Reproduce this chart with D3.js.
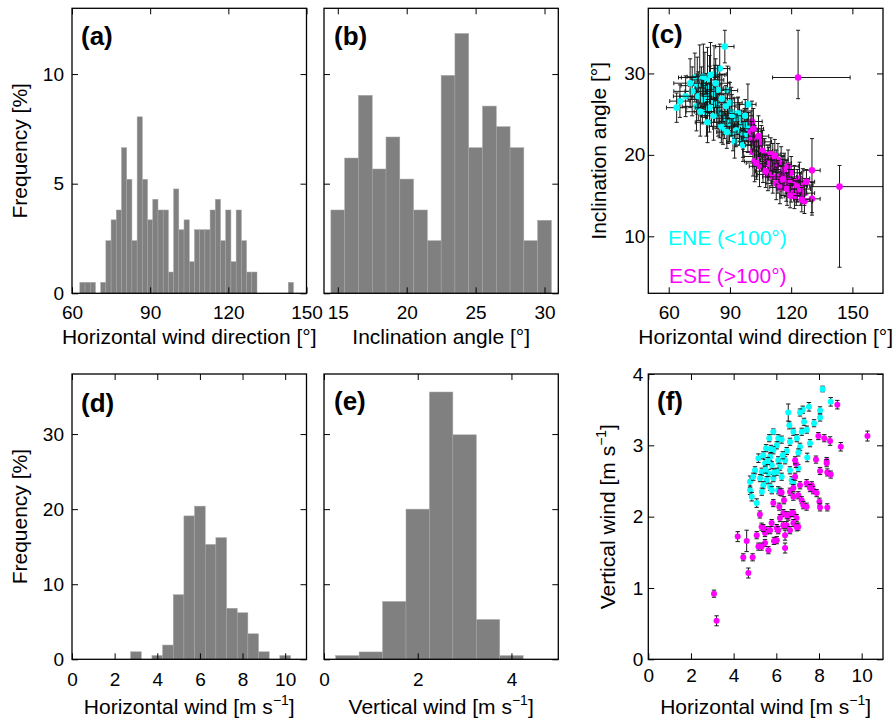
<!DOCTYPE html>
<html><head><meta charset="utf-8">
<script src="https://cdn.jsdelivr.net/npm/d3@7"></script>
<style>
body{margin:0;background:#fff}
text{font-family:"Liberation Sans",Arial,Helvetica,sans-serif}
</style>
</head><body>
<svg id="chart" width="895" height="723"></svg>
<script>
// ---------------- DATA ----------------
// (a) horizontal wind direction histogram
const aBinWidth = 2;
const aCenters = [64,66,68,70,72,74,76,78,80,82,84,86,88,90,92,94,96,98,100,102,104,106,108,110,112,114,116,118,120,122,124,126,128,130,132,134,136,138,140,142,144];
const aFreq    = [0.5,0.5,0.5,0,0.5,2.4,3.35,3.8,6.64,5.2,2.4,8.05,5.2,3.35,4.29,3.8,3.8,0.97,4.76,2.9,3.35,1.44,2.9,2.9,2.9,3.8,4.29,2.4,3.8,1.44,3.8,2.4,0.97,0.97,0,0,0,0,0,0,0.5];
// (b) inclination angle histogram
const bBinWidth = 1;
const bCenters = [15,16,17,18,19,20,21,22,23,24,25,26,27,28,29,30];
const bFreq    = [3.8,6.17,9.03,5.67,7.13,5.21,3.8,2.4,9.94,11.85,6.64,8.54,7.6,6.64,2.4,3.33];
// (d) horizontal wind histogram
const dBinWidth = 0.5;
const dCenters = [3,3.5,4,4.5,5,5.5,6,6.5,7,7.5,8,8.5,9,9.5,10];
const dFreq    = [1.0,0,0.5,1.9,8.6,19.1,20.4,15.3,16.2,6.8,6.2,3.4,1.0,0,0.5];
// (e) vertical wind histogram
const eBinWidth = 0.5;
const eCenters = [0.5,1,1.5,2,2.5,3,3.5,4];
const eFreq    = [0.49,0.98,7.7,20.0,35.6,29.9,5.3,0.49];

// (c) direction vs inclination, ENE group (symmetric errors)
const cCyanDir = [87.5,85.0,82.2,72.8,75.2,68.3,65.5,63.9,88.8,98.8,77.7,80.1,73.6,78.5,85.0,87.4,89.8,92.3,94.7,97.2,86.6,91.5,96.4,92.3,84.2,90.7,93.9,89.1,95.6,98.0,85.8,96.4,98.8,96.4,74,76,78,80,81,79,76.5,74.5,71.5,70.5,82.5,83.5,77,80.5,84,82,80,86,88,90,91,94,93,88.5,83,75.5,79,97.5,99.2];
const cCyanInc = [33.3,30.6,29.9,29.5,29.5,27.2,26.6,25.8,27.9,26.2,28.6,27.4,25.95,25.3,25.1,24.5,24.1,24.5,23.7,23.7,23.3,22.5,21.7,21.6,25.3,25.3,24.5,23.9,23.5,23.7,23.5,22.7,22.3,21.2,28.5,27.8,27.0,28.2,26.5,29.2,26.8,27.2,27.8,28.8,27.5,26.2,29.6,29.8,28.0,24.8,25.8,26.9,26.0,26.4,24.9,25.1,23.0,22.8,28.8,25.3,24.0,24.8,23.2];
const cCyanDirErr = [4.5,5,6,8,9,6,5,5,5,4,8,7,7,6,6,5,5,6,5,5,5,5,4,4,6,6,5,5,5,4,6,4,4,4,8,8,7,7,6,8,7,9,9,8,7,6,8,7,6,6,7,6,5,6,5,5,5,5,7,7,6,4,4];
const cCyanIncErr = [2,3,3.5,3,4,2.5,2,1.8,3,2.5,4,3.5,3,3,3,2.5,2.5,2.5,2.5,2,2,2,2,2,3,3,2.5,2.5,2,2,2,2,2,2,3.5,3,3,4,3,4,3,3,3,3,3.5,3,4,4,3,3,3,3,2.5,2.5,2.5,2,2,2,3,3,2.5,2,2];
// (c) ESE group (lower / upper errors)
const cMagDir = [123.4,143.7,130.2,130.2,100.8,100.3,100.5,102.1,103.7,105.4,101.3,102.9,102.1,107,108.6,106.2,104.5,111,113.5,115.1,112.7,110.3,108.6,111,113.5,115.9,117.6,120,115.1,112.7,117.6,121.6,124.1,125.7,120,122.5,126.5,126.5,121.6,118.5,116.5,119,123,109,114.5,118,124.5,127.5,106,104,101.5,110,112,103,107.5,119.5,125.2,116];
const cMagInc = [29.5,16.1,18.1,14.6,24.1,22.9,22.1,21.6,21.2,21.6,20.4,19.8,19.2,20.0,19.2,18.6,18.6,19.4,19.4,19.0,18.6,18.2,17.6,17.3,17.3,17.8,17.3,17.8,16.7,16.5,16.3,16.7,17.1,16.3,15.7,15.3,15.3,14.3,14.9,18.6,18.2,16.8,16.2,18.9,16.0,15.8,15.8,16.7,20.5,22.3,23.2,20.1,19.9,19.0,18.0,15.0,14.5,17.0];
const cMagDirLo = [12.5,14.6,4,4,5,5,5,5,6,5,5,6,5,5,6,5,5,6,5,5,6,5,5,5,5,5,5,5,5,5,5,5,5,5,5,5,5,4,5,5,5,5,5,5,5,5,5,4,5,5,5,5,5,5,5,5,4,5];
const cMagDirHi = [25.5,25,4,4,5,5,5,5,6,5,5,6,5,5,6,5,5,6,5,5,6,5,5,5,5,5,5,5,5,5,5,5,5,5,5,5,5,4,5,5,5,5,5,5,5,5,5,4,5,5,5,5,5,5,5,5,4,5];
const cMagIncLo = [2.6,9.9,5.2,2,2.5,2.5,2,2,2,2,3,2.5,2.5,2,2,2,2.5,2,2,2,2,2,2,2,2,2,2,2,2,2,2,2,2,2,1.5,1.5,1.5,1.5,1.5,2,2,2,2,2,2,2,2,1.5,2.5,2.5,2.5,2,2,2,2,1.5,1.5,2];
const cMagIncHi = [5.8,2.6,3.9,2,2.5,2.5,2,2,2,2,3,2.5,2.5,2,2,2,2.5,2,2,2,2,2,2,2,2,2,2,2,2,2,2,2,2,2,1.5,1.5,1.5,1.5,1.5,2,2,2,2,2,2,2,2,1.5,2.5,2.5,2.5,2,2,2,2,1.5,1.5,2];

// (f) horizontal vs vertical wind
const fCyanH = [8.17,8.55,8.05,8.05,7.53,7.24,7.11,6.56,7.77,7.43,6.61,6.80,7.19,6.96,5.86,6.09,5.67,6.64,7.58,7.11,6.02,5.52,5.86,6.49,7.03,5.16,5.39,5.71,6.09,6.41,7.45,5.47,5.79,6.17,7.03,5.00,5.32,5.63,6.02,6.64,5.24,5.55,5.86,6.25,4.77,5.39,5.71,6.72,4.77,4.85,5.08,5.32,5.79,6.09,6.80,5.6,5.5,5.9,6.3,5.75,6.25,7.3,4.92];
const fCyanV = [3.79,3.61,3.49,3.39,3.54,3.50,3.46,3.46,3.31,3.22,3.28,3.19,3.19,3.10,3.19,3.10,3.10,3.05,3.03,2.98,3.00,2.96,2.93,2.92,2.90,2.82,2.86,2.84,2.79,2.79,2.83,2.75,2.72,2.70,2.68,2.65,2.63,2.61,2.63,2.65,2.54,2.51,2.54,2.56,2.49,2.44,2.42,2.51,2.37,2.28,2.19,2.35,2.37,2.37,2.47,2.78,2.66,2.62,2.86,2.95,3.08,3.33,2.56];
const fCyanErr = [0.04,0.06,0.05,0.05,0.06,0.05,0.05,0.12,0.05,0.05,0.05,0.05,0.05,0.05,0.04,0.05,0.05,0.05,0.05,0.05,0.05,0.05,0.05,0.05,0.05,0.06,0.05,0.05,0.05,0.05,0.06,0.05,0.05,0.05,0.05,0.05,0.05,0.05,0.05,0.05,0.05,0.05,0.05,0.05,0.08,0.05,0.05,0.05,0.06,0.06,0.06,0.05,0.05,0.05,0.05,0.05,0.05,0.05,0.05,0.05,0.05,0.05,0.05];
const fMagH = [10.27,8.86,7.97,8.25,8.52,9.02,7.86,8.36,8.36,8.05,8.39,8.55,6.92,6.88,6.88,7.11,7.42,7.66,7.73,7.89,7.58,8.02,8.05,8.39,6.64,6.80,7.03,7.19,7.27,7.42,6.17,6.36,5.86,6.14,5.23,6.33,6.56,6.80,6.95,6.17,6.33,6.48,6.80,7.03,6.64,5.78,6.02,5.31,5.55,5.08,5.47,6.02,5.47,5.31,5.63,6.41,6.41,4.19,4.61,4.45,4.89,4.69,3.08,3.20,6.25,5.39,5.16,6.09,5.71,5.89,6.49,6.72,6.96,6.80];
const fMagV = [3.13,3.57,3.13,3.10,3.06,2.98,2.80,2.78,2.75,2.64,2.62,2.59,2.74,2.79,2.56,2.44,2.47,2.44,2.37,2.33,2.40,2.21,2.13,2.13,2.35,2.28,2.30,2.23,2.16,2.14,2.35,2.23,2.19,2.14,2.03,2.05,2.00,2.05,1.98,1.98,1.88,1.88,1.91,1.86,1.81,1.91,1.84,1.86,1.81,1.74,1.77,1.67,1.63,1.58,1.53,1.56,1.74,1.72,1.66,1.43,1.43,1.21,0.92,0.54,2.34,1.84,1.58,1.81,1.81,1.66,2.02,2.05,1.85,2.40];
const fMagErr = [0.07,0.06,0.05,0.05,0.06,0.06,0.05,0.05,0.05,0.05,0.05,0.05,0.05,0.05,0.05,0.05,0.05,0.05,0.05,0.05,0.05,0.05,0.05,0.05,0.05,0.05,0.05,0.05,0.05,0.05,0.05,0.05,0.05,0.05,0.05,0.05,0.05,0.05,0.05,0.05,0.05,0.05,0.05,0.05,0.05,0.05,0.05,0.05,0.05,0.05,0.05,0.05,0.05,0.05,0.05,0.07,0.07,0.07,0.15,0.05,0.05,0.07,0.05,0.07,0.05,0.05,0.05,0.05,0.05,0.05,0.05,0.05,0.05,0.05];

// tick values
const aXTicks = [60,90,120,150], aYTicks = [0,5,10];
const bXTicks = [15,20,25,30];
const cXTicks = [60,90,120,150], cYTicks = [10,20,30];
const dXTicks = [0,2,4,6,8,10], dYTicks = [0,10,20,30];
const eXTicks = [0,2,4];
const fXTicks = [0,2,4,6,8,10], fYTicks = [0,1,2,3,4];

// ---------------- DRAWING ----------------
const FONT = '"Liberation Sans", Arial, Helvetica, sans-serif';
const CYAN = "#00ffff", MAGENTA = "#ff00ff", BAR = "#808080";
const svg = d3.select("#chart");

let clipId = 0;
function panel(o) {
  const x = d3.scaleLinear().domain(o.xDom).range([o.left, o.right]);
  const y = d3.scaleLinear().domain(o.yDom).range([o.bottom, o.top]);
  const g = svg.append("g");
  const id = "clip" + (clipId++);
  svg.append("clipPath").attr("id", id).append("rect")
    .attr("x", o.left).attr("y", o.top).attr("width", o.right - o.left).attr("height", o.bottom - o.top);
  const plot = g.append("g").attr("clip-path", `url(#${id})`);
  const axes = g.append("g");
  const styleAxis = sel => {
    sel.attr("font-size", 19).attr("font-family", FONT);
    sel.select(".domain").remove();
    sel.selectAll("line").attr("stroke", "#000").attr("stroke-width", 1);
    sel.selectAll("text").attr("fill", "#000");
  };
  axes.append("g").attr("transform", `translate(0,${o.bottom})`)
    .call(d3.axisBottom(x).tickValues(o.xTicks).tickSizeInner(-6).tickSizeOuter(0)
      .tickPadding(o.xPad).tickFormat(o.xLab ? d3.format("d") : () => ""))
    .call(styleAxis);
  axes.append("g").attr("transform", `translate(0,${o.top})`)
    .call(d3.axisTop(x).tickValues(o.xTicks).tickSizeInner(-6).tickSizeOuter(0).tickFormat(() => ""))
    .call(styleAxis);
  axes.append("g").attr("transform", `translate(${o.left},0)`)
    .call(d3.axisLeft(y).tickValues(o.yTicks).tickSizeInner(-6).tickSizeOuter(0)
      .tickPadding(o.yPad).tickFormat(o.yLab ? d3.format("d") : () => ""))
    .call(styleAxis);
  axes.append("g").attr("transform", `translate(${o.right},0)`)
    .call(d3.axisRight(y).tickValues(o.yTicks).tickSizeInner(-6).tickSizeOuter(0).tickFormat(() => ""))
    .call(styleAxis);
  axes.append("rect").attr("x", o.left).attr("y", o.top)
    .attr("width", o.right - o.left).attr("height", o.bottom - o.top)
    .attr("fill", "none").attr("stroke", "#000").attr("stroke-width", 1.3);
  axes.append("text").attr("x", o.labX).attr("y", o.labY)
    .attr("font-size", 26).attr("font-weight", "bold").attr("font-family", FONT).text(o.label);
  return {x, y, plot, axes, o};
}

function hist(p, centers, freq, w) {
  const data = centers.map((c, i) => ({c, f: freq[i]})).filter(d => d.f > 0);
  p.plot.selectAll("rect.bar").data(data).join("rect").attr("class", "bar")
    .attr("x", d => p.x(d.c - w / 2)).attr("width", d => p.x(d.c + w / 2) - p.x(d.c - w / 2))
    .attr("y", d => p.y(d.f)).attr("height", d => p.y(0) - p.y(d.f))
    .attr("fill", BAR).attr("stroke", "#a6a6a6").attr("stroke-width", 0.5);
}

function xLabel(text, cx, y, sup) {
  const t = svg.append("text").attr("x", cx).attr("y", y).attr("text-anchor", "middle")
    .attr("font-size", 21).attr("font-family", FONT).text(text);
  if (sup) {
    t.append("tspan").attr("font-size", 14).attr("dy", -9).text("\u22121");
    t.append("tspan").attr("dy", 9).text("]");
  }
}
function yLabel(text, x, cy, sup) {
  const t = svg.append("text").attr("transform", `translate(${x},${cy}) rotate(-90)`)
    .attr("text-anchor", "middle").attr("font-size", 21).attr("font-family", FONT).text(text);
  if (sup) {
    t.append("tspan").attr("font-size", 14).attr("dy", -9).text("\u22121");
    t.append("tspan").attr("dy", 9).text("]");
  }
}

// panel geometry
const col = [[72, 306.5], [324, 558.3], [648.3, 883]];
const row = [[8.3, 293.3], [374, 659.3]];

const pa = panel({left: col[0][0], right: col[0][1], top: row[0][0], bottom: row[0][1],
  xDom: [60, 150], yDom: [0, 13], xTicks: aXTicks, yTicks: aYTicks, xLab: true, yLab: true,
  xPad: 12.5, yPad: 8, label: "(a)", labX: 81, labY: 45});
hist(pa, aCenters, aFreq, aBinWidth);
const pb = panel({left: col[1][0], right: col[1][1], top: row[0][0], bottom: row[0][1],
  xDom: [14, 31], yDom: [0, 13], xTicks: bXTicks, yTicks: aYTicks, xLab: true, yLab: false,
  xPad: 12.5, yPad: 8, label: "(b)", labX: 334, labY: 45});
hist(pb, bCenters, bFreq, bBinWidth);
const pc = panel({left: col[2][0], right: col[2][1], top: row[0][0], bottom: row[0][1],
  xDom: [50, 165], yDom: [3, 38], xTicks: cXTicks, yTicks: cYTicks, xLab: true, yLab: true,
  xPad: 12.5, yPad: 3, label: "(c)", labX: 651, labY: 43});
const pd = panel({left: col[0][0], right: col[0][1], top: row[1][0], bottom: row[1][1],
  xDom: [0, 11], yDom: [0, 38], xTicks: dXTicks, yTicks: dYTicks, xLab: true, yLab: true,
  xPad: 13, yPad: 8, label: "(d)", labX: 81, labY: 412});
hist(pd, dCenters, dFreq, dBinWidth);
const pe = panel({left: col[1][0], right: col[1][1], top: row[1][0], bottom: row[1][1],
  xDom: [0, 5], yDom: [0, 38], xTicks: eXTicks, yTicks: dYTicks, xLab: true, yLab: false,
  xPad: 13, yPad: 8, label: "(e)", labX: 334, labY: 410});
hist(pe, eCenters, eFreq, eBinWidth);
const pf = panel({left: col[2][0], right: col[2][1], top: row[1][0], bottom: row[1][1],
  xDom: [0, 11], yDom: [0, 4], xTicks: fXTicks, yTicks: fYTicks, xLab: true, yLab: true,
  xPad: 9, yPad: 5, label: "(f)", labX: 657, labY: 410});

// scatter with error bars (xLo/xHi may be null; errors are offsets below/above)
function errScatter(p, xs, ys, xLo, xHi, yLo, yHi, color, r, cap) {
  xs.forEach((xv, i) => {
    const g = p.plot.append("g");
    const cx = p.x(xv), cy = p.y(ys[i]);
    const ln = (x1, y1, x2, y2) => g.append("line").attr("x1", x1).attr("y1", y1).attr("x2", x2).attr("y2", y2)
      .attr("stroke", "#1a1a1a").attr("stroke-width", 1);
    if (xLo) {
      const xl = p.x(xv - xLo[i]), xr = p.x(xv + xHi[i]);
      ln(xl, cy, xr, cy); ln(xl, cy - cap, xl, cy + cap); ln(xr, cy - cap, xr, cy + cap);
    }
    const yt = p.y(ys[i] + yHi[i]), yb = p.y(ys[i] - yLo[i]);
    ln(cx, yt, cx, yb); ln(cx - cap, yt, cx + cap, yt); ln(cx - cap, yb, cx + cap, yb);
    g.append("circle").attr("cx", cx).attr("cy", cy).attr("r", r).attr("fill", color);
  });
}
errScatter(pc, cCyanDir, cCyanInc, cCyanDirErr, cCyanDirErr, cCyanIncErr, cCyanIncErr, CYAN, 3.3, 2);
errScatter(pc, cMagDir, cMagInc, cMagDirLo, cMagDirHi, cMagIncLo, cMagIncHi, MAGENTA, 3.3, 2);
errScatter(pf, fCyanH, fCyanV, null, null, fCyanErr, fCyanErr, CYAN, 3, 2.2);
errScatter(pf, fMagH, fMagV, null, null, fMagErr, fMagErr, MAGENTA, 3, 2.2);

// legend text in (c)
svg.append("text").attr("x", 668).attr("y", 245).attr("font-size", 21).attr("font-family", FONT)
  .attr("fill", CYAN).text("ENE (<100\u00b0)");
svg.append("text").attr("x", 669).attr("y", 283).attr("font-size", 21).attr("font-family", FONT)
  .attr("fill", MAGENTA).text("ESE (>100\u00b0)");

// axis titles
xLabel("Horizontal wind direction [\u00b0]", (col[0][0] + col[0][1]) / 2, 344);
xLabel("Inclination angle [\u00b0]", (col[1][0] + col[1][1]) / 2, 344);
xLabel("Horizontal wind direction [\u00b0]", (col[2][0] + col[2][1]) / 2, 344);
xLabel("Horizontal wind [m s", (col[0][0] + col[0][1]) / 2, 714, true);
xLabel("Vertical wind [m s", (col[1][0] + col[1][1]) / 2, 714, true);
xLabel("Horizontal wind [m s", (col[2][0] + col[2][1]) / 2, 714, true);
yLabel("Frequency [%]", 27, (row[0][0] + row[0][1]) / 2);
yLabel("Frequency [%]", 27, (row[1][0] + row[1][1]) / 2);
yLabel("Inclination angle [\u00b0]", 606, (row[0][0] + row[0][1]) / 2);
yLabel("Vertical wind [m s", 615, (row[1][0] + row[1][1]) / 2, true);
</script>
</body></html>
